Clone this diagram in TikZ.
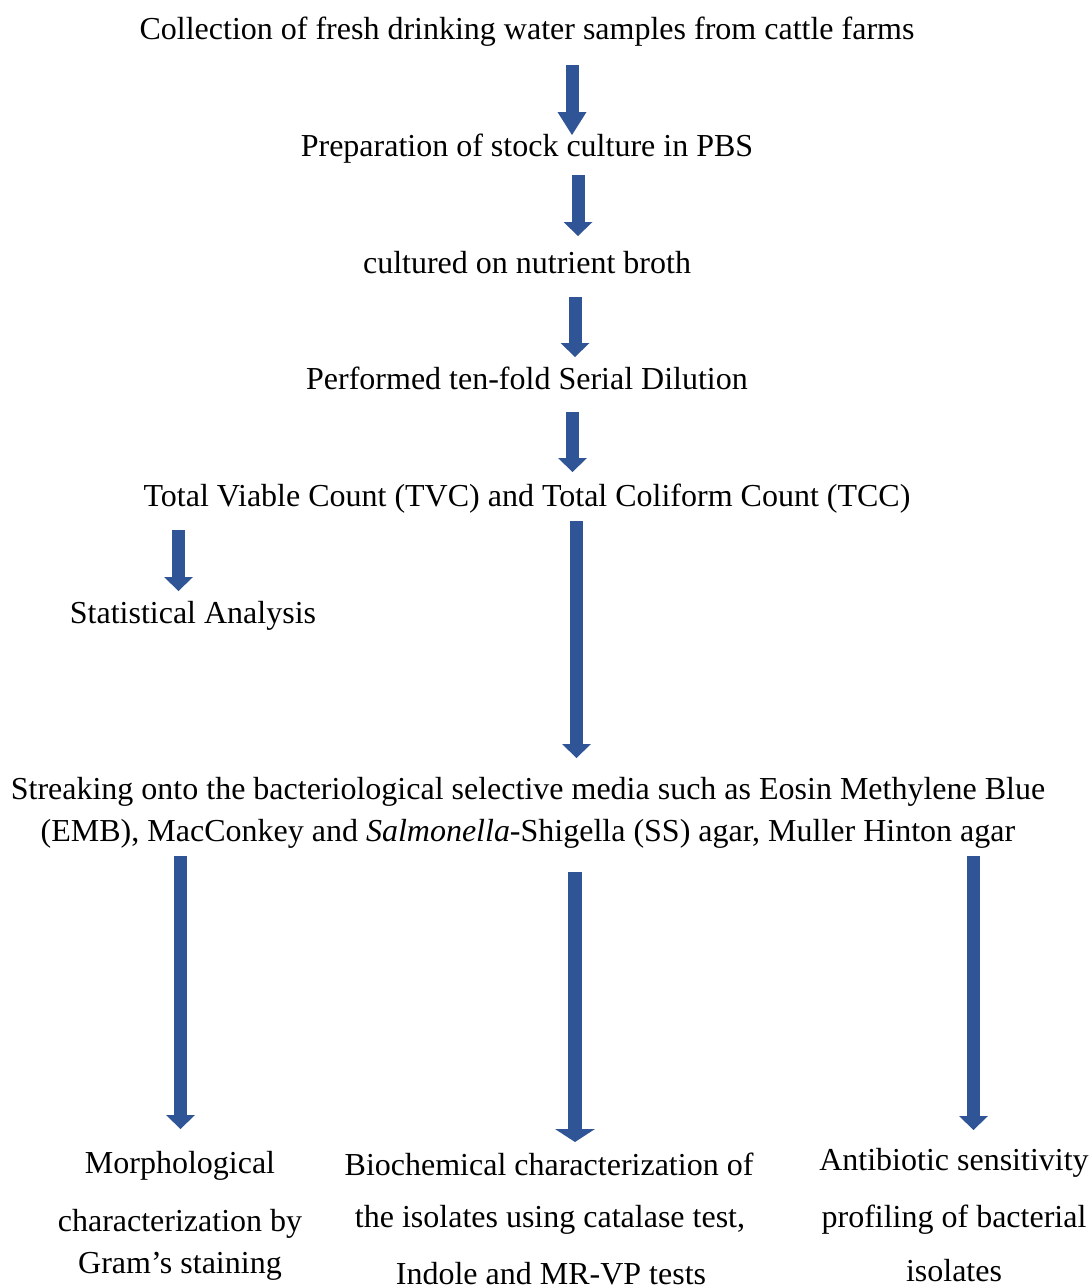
\documentclass[tikz,border=0pt]{standalone}
\usepackage{fontspec}
\setmainfont{Liberation Serif}
\usetikzlibrary{arrows.meta}
\definecolor{arrowblue}{RGB}{47,85,151}
\tikzset{
  txt/.style={inner sep=0pt, outer sep=0pt, anchor=base, font=\fontsize{16}{19}\selectfont},
  blk/.style={draw=arrowblue, line width=6.5pt, -{Triangle[width=14.5pt,length=7pt,line width=0pt]}},
  blkA/.style={draw=arrowblue, line width=6.5pt, -{Triangle[width=14.5pt,length=11.5pt,line width=0pt]}},
  blkW/.style={draw=arrowblue, line width=7pt, -{Triangle[width=20pt,length=6.5pt,line width=0pt]}}
}
\begin{document}
\begin{tikzpicture}[x=0.5pt,y=-0.5pt]
\useasboundingbox (0,0) rectangle (1091,1286);
% texts
\node[txt] (title) at (527,39) {Collection of fresh drinking water samples from cattle farms};
\node[txt] (prep) at (527,156) {Preparation of stock culture in PBS};
\node[txt] (cult) at (527,273) {cultured on nutrient broth};
\node[txt] (perf) at (527,389) {Performed ten-fold Serial Dilution};
\node[txt] (total) at (527,506) {Total Viable Count (TVC) and Total Coliform Count (TCC)};
\node[txt] (stat) at (193,623) {Statistical Analysis};
\node[txt] (streakA) at (528,799) {Streaking onto the bacteriological selective media such as Eosin Methylene Blue};
\node[txt] (streakB) at (528,841) {(EMB), MacConkey and \textit{Salmonella}-Shigella (SS) agar, Muller Hinton agar};
\node[txt] (blA) at (180,1173) {Morphological};
\node[txt] (blB) at (180,1231) {characterization by};
\node[txt] (blC) at (180,1273) {Gram’s staining};
\node[txt] (bmA) at (549,1175) {Biochemical characterization of};
\node[txt] (bmB) at (550,1227) {the isolates using catalase test,};
\node[txt] (bmC) at (551,1284) {Indole and MR-VP tests};
\node[txt] (brA) at (954,1170) {Antibiotic sensitivity};
\node[txt] (brB) at (954,1227) {profiling of bacterial};
\node[txt] (brC) at (954,1281) {isolates};
% arrows
\draw[blkA] ([shift={(45,26)}]title.base) -- ([shift={(45,-21)}]prep.base);
\draw[blk] ([shift={(51,19)}]prep.base) -- ([shift={(51,-37)}]cult.base);
\draw[blk] ([shift={(48,24)}]cult.base) -- ([shift={(48,-32)}]perf.base);
\draw[blk] ([shift={(45.5,23)}]perf.base) -- ([shift={(45.5,-34)}]total.base);
\draw[blk] ([shift={(-348.5,24)}]total.base) -- ([shift={(-14.5,-32)}]stat.base);
\draw[blk] ([shift={(49.5,15)}]total.base) -- ([shift={(48.5,-41)}]streakA.base);
\draw[blk] ([shift={(-347.5,15)}]streakB.base) -- ([shift={(0.5,-44)}]blA.base);
\draw[blkW] ([shift={(47,31)}]streakB.base) -- ([shift={(26,-33)}]bmA.base);
\draw[blk] ([shift={(445.5,15)}]streakB.base) -- ([shift={(19.5,-40)}]brA.base);
\end{tikzpicture}
\end{document}
